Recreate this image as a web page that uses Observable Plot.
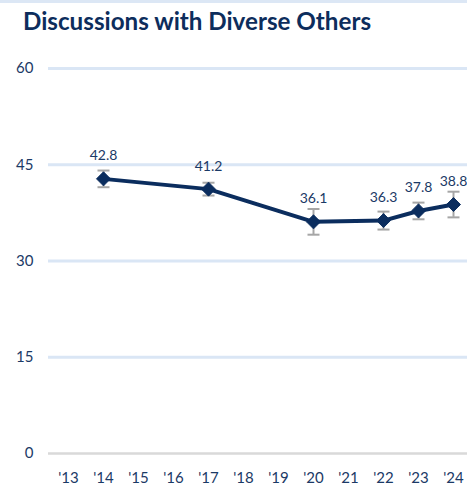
<!DOCTYPE html>
<html>
<head>
<meta charset="utf-8">
<script src="https://cdn.jsdelivr.net/npm/d3@7"></script>
<script src="https://cdn.jsdelivr.net/npm/@observablehq/plot@0.6"></script>
<style>
  html, body { margin: 0; padding: 0; background: #fff; overflow: hidden; }
  #wrap { position: relative; width: 467px; height: 488px; border-top: 3px solid #dce7f5; box-sizing: border-box; }
  #title { position: absolute; left: 23px; top: 3px; font-family: Lato, "Open Sans", sans-serif; font-weight: 700; font-size: 24.2px; color: #0d2d5c; white-space: nowrap; }
  #chart { position: absolute; left: 0; top: -3px; }
</style>
</head>
<body>
<div id="wrap">
  <div id="title">Discussions with Diverse Others</div>
  <div id="chart"></div>
</div>
<script>
const yearLabels = ["'13","'14","'15","'16","'17","'18","'19","'20","'21","'22","'23","'24"];
const years = ["'14","'17","'20","'22","'23","'24"];
const values = [42.8, 41.2, 36.1, 36.3, 37.8, 38.8];
const errors = [1.3, 1.0, 2.0, 1.4, 1.3, 2.0];
const yTicks = [0, 15, 30, 45, 60];

const data = years.map((y, i) => ({year: y, value: values[i], lo: values[i] - errors[i], hi: values[i] + errors[i]}));
const navy = "#0b2d5e";
const textColor = "#1b3a66";
const capSymbol = {draw(ctx, size) { ctx.moveTo(-6, 0); ctx.lineTo(6, 0); }};

const chart = Plot.plot({
  width: 467,
  height: 488,
  marginLeft: 48,
  marginRight: 0,
  marginTop: 0,
  marginBottom: 0,
  style: {fontFamily: "Lato, 'Open Sans', sans-serif", background: "transparent"},
  x: {type: "point", domain: yearLabels, range: [65.5, 455], padding: 0, axis: null},
  y: {domain: [0, 60], range: [453, 68], axis: null},
  marks: [
    Plot.ruleY(yTicks.filter(d => d > 0), {stroke: "#dae6f5", strokeWidth: 3}),
    Plot.ruleY([0], {stroke: "#d9d9d9", strokeWidth: 2.5}),
    Plot.text(yTicks, {x: () => "'13", y: d => d, text: d => String(d), dx: -35, textAnchor: "end", fill: textColor, fontSize: 15}),
    Plot.text(yearLabels, {x: d => d, y: () => 0, text: d => d, dy: 25, fill: textColor, fontSize: 15}),
    Plot.ruleX(data, {x: "year", y1: "lo", y2: "hi", stroke: "#a6a6a6", strokeWidth: 2}),
    Plot.dot(data, {x: "year", y: "lo", symbol: capSymbol, stroke: "#a6a6a6", strokeWidth: 2, fill: "none"}),
    Plot.dot(data, {x: "year", y: "hi", symbol: capSymbol, stroke: "#a6a6a6", strokeWidth: 2, fill: "none"}),
    Plot.line(data, {x: "year", y: "value", stroke: navy, strokeWidth: 4}),
    Plot.dot(data, {x: "year", y: "value", symbol: "diamond2", r: 6.3, fill: navy, stroke: navy, strokeWidth: 1}),
    Plot.text(data, {x: "year", y: "value", text: d => d.value.toFixed(1), dy: -23, fill: textColor, fontSize: 14})
  ]
});
document.getElementById("chart").appendChild(chart);
</script>
</body>
</html>
